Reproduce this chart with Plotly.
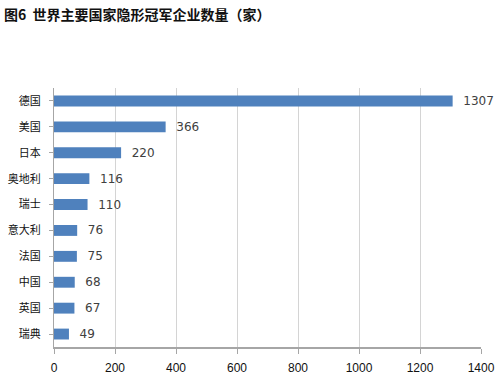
import plotly.graph_objects as go

countries = ["德国", "美国", "日本", "奥地利", "瑞士", "意大利", "法国", "中国", "英国", "瑞典"]
counts = [1307, 366, 220, 116, 110, 76, 75, 68, 67, 49]
x_ticks = [0, 200, 400, 600, 800, 1000, 1200, 1400]
title = "图6  世界主要国家隐形冠军企业数量（家）"

fig = go.Figure(go.Bar(
    y=countries, x=counts, orientation="h",
    marker=dict(color="#4f81bd", line=dict(width=0)),
    width=0.42,
    texttemplate="  %{x}", textposition="outside",
    textfont=dict(family="DejaVu Sans, Arial", size=12, color="#404040"),
    constraintext="none",
    cliponaxis=False,
))

fig.update_layout(
    width=500, height=377,
    margin=dict(l=54, r=19, t=88, b=30, autoexpand=False),
    paper_bgcolor="white", plot_bgcolor="white",
    showlegend=False,
    title=dict(text=title, x=0.008, xanchor="left", y=0.96, yanchor="middle",
               font=dict(family="Noto Sans CJK SC", size=14, color="#111111", weight="bold")),
    font=dict(family="Noto Sans CJK SC", size=11, color="#111111"),
)
fig.update_xaxes(
    range=[0, 1400], tickvals=x_ticks, ticktext=[str(t) for t in x_ticks],
    showgrid=True, gridcolor="#d4d4d4", gridwidth=1,
    showline=True, linecolor="#a6a6a6", linewidth=1.5,
    ticks="outside", ticklen=5, tickcolor="#a6a6a6",
    tickfont=dict(family="Liberation Sans, Arial", size=12, color="#111111"),
    ticklabelstandoff=4, zeroline=False, automargin=False,
)
fig.update_yaxes(
    categoryorder="array", categoryarray=countries, autorange="reversed",
    showline=True, linecolor="#a6a6a6", linewidth=1,
    ticks="outside", ticklen=4, tickcolor="#a6a6a6",
    tickfont=dict(family="Noto Sans CJK SC", size=11, color="#111111"),
    ticklabelstandoff=6, showgrid=False, automargin=False,
)

fig.write_html("out.html", config={"displayModeBar": False},
               post_script="document.body.style.margin='0';document.body.style.overflow='hidden';")
